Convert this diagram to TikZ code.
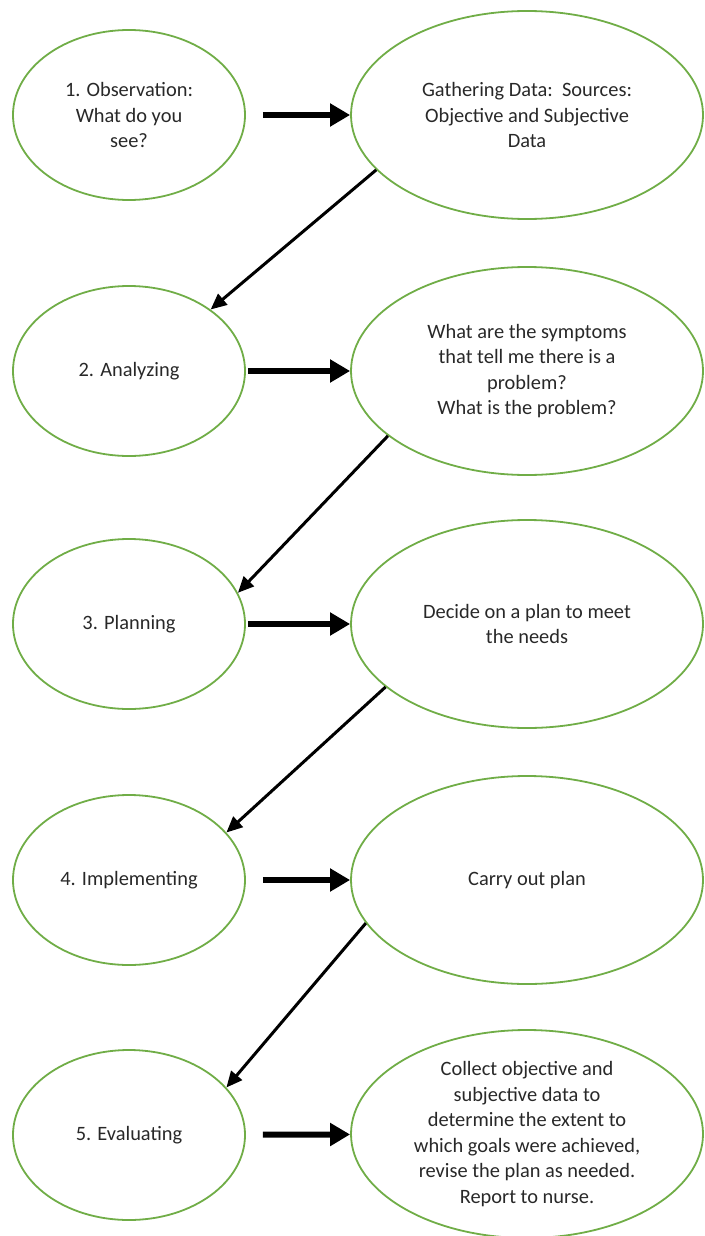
\documentclass[tikz,border=0pt]{standalone}
\usepackage{fontspec}
\setmainfont{Carlito}
\usepackage{tikz}
\usetikzlibrary{shapes.geometric,arrows.meta}

\definecolor{ringgreen}{RGB}{112,173,71}
\definecolor{ink}{RGB}{40,40,40}

\begin{document}
\begin{tikzpicture}
[x=0.5pt,y=-0.5pt,
 stage/.style={ellipse,draw=ringgreen,line width=0.9pt,inner sep=0pt,align=center,
   text=ink,font=\fontsize{10.2}{12.8}\selectfont},
 leftstage/.style={stage,minimum width=116pt,minimum height=85pt},
 rightstage/.style={stage,minimum width=176pt,minimum height=104pt},
 fatarrow/.style={line width=3pt,-{Triangle[length=10pt,width=11pt]}},
 thinarrow/.style={line width=1.5pt,-{Triangle[length=8pt,width=7pt]}}]
\useasboundingbox (0,0) rectangle (705,1236);

\node[leftstage] (obs) at (129,115) {1. Observation:\\What do you\\see?};
\node[leftstage] (ana) at (129,371) {2. Analyzing};
\node[leftstage] (pla) at (129,624) {3. Planning};
\node[leftstage] (imp) at (129,880) {4. Implementing};
\node[leftstage] (eva) at (129,1135) {5. Evaluating};

\node[rightstage] (gat) at (527,115) {Gathering Data:\ \ Sources:\\Objective and Subjective\\Data};
\node[rightstage] (sym) at (527,371) {What are the symptoms\\that tell me there is a\\problem?\\What is the problem?};
\node[rightstage] (dec) at (527,624) {Decide on a plan to meet\\the needs};
\node[rightstage] (car) at (527,880) {Carry out plan};
\node[rightstage,inner sep=-4pt] (col) at (527,1134) {Collect objective and\\subjective data to\\determine the extent to\\which goals were achieved,\\revise the plan as needed.\\Report to nurse.};

\foreach \a/\b in {obs/gat,imp/car,eva/col} \draw[fatarrow,shorten <=8.5pt] (\a) -- (\b);
\foreach \a/\b in {ana/sym,pla/dec} \draw[fatarrow,shorten <=1pt] (\a) -- (\b);

\draw[thinarrow] (gat.200) -- (ana.37);
\draw[thinarrow] (sym.205) -- (pla.16);
\draw[thinarrow] (dec.204) -- (imp.26);
\draw[thinarrow] (car.195) -- (eva.26);
\end{tikzpicture}
\end{document}
